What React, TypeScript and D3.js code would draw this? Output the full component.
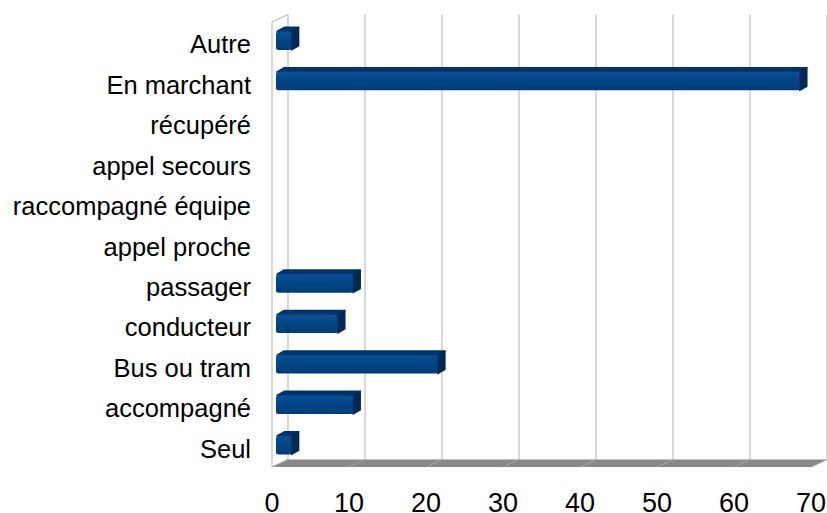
import React from "react";
import * as d3 from "d3";

const categories = [
  "Autre",
  "En marchant",
  "récupéré",
  "appel secours",
  "raccompagné équipe",
  "appel proche",
  "passager",
  "conducteur",
  "Bus ou tram",
  "accompagné",
  "Seul",
];
const values = [2, 68, 0, 0, 0, 0, 10, 8, 21, 10, 2];
const ticks = [0, 10, 20, 30, 40, 50, 60, 70];

const W = 827;
const H = 513;
// oblique depth of the 3D box
const DX = 16;
const DY = -7.5;
const FONT = "'Liberation Sans', Arial, sans-serif";

const App = () => {
  const x = d3.scaleLinear().domain([0, 70]).range([272, 811]);
  const y = d3.scaleBand().domain(categories).range([22, 467]);
  const floorY = y.range()[1];
  const top = y.range()[0];
  const barH = 18.5;

  const label = (t: string, tx: number, ty: number, anchor: string, size: number) => (
    <text
      key={t + tx + ty}
      x={tx}
      y={ty}
      textAnchor={anchor}
      fontFamily={FONT}
      fontSize={size}
      fill="#000"
    >
      {t}
    </text>
  );

  return (
    <svg
      width={W}
      height={H}
      style={{ position: "absolute", left: 0, top: 0, background: "#fff" }}
    >
      <defs>
        <linearGradient id="front" x1="0" y1="0" x2="0" y2="1">
          <stop offset="0" stopColor="#0a4f93" />
          <stop offset="0.5" stopColor="#004586" />
          <stop offset="1" stopColor="#003c76" />
        </linearGradient>
      </defs>

      {/* left side wall */}
      <line x1={x(0)} y1={top} x2={x(0)} y2={floorY} stroke="#b3b3b3" />
      <line x1={x(0)} y1={top} x2={x(0) + DX} y2={top + DY} stroke="#b3b3b3" />

      {/* back wall grid */}
      {ticks.map((t) => (
        <line
          key={"g" + t}
          x1={x(t) + DX}
          x2={x(t) + DX}
          y1={top + DY}
          y2={floorY + DY}
          stroke="#b3b3b3"
        />
      ))}

      {/* floor */}
      <polygon
        points={[
          [x(0), floorY],
          [x(70), floorY],
          [x(70) + DX, floorY + DY],
          [x(0) + DX, floorY + DY],
        ]
          .map((p) => p.join(","))
          .join(" ")}
        fill="#888888"
      />
      {ticks.map((t) => (
        <line
          key={"f" + t}
          x1={x(t)}
          y1={floorY}
          x2={x(t) + DX}
          y2={floorY + DY}
          stroke="#a2a2a2"
          strokeWidth={1}
        />
      ))}

      {/* bars */}
      {categories.map((c, i) => {
        const v = values[i];
        if (!v) return null;
        const cy = (y(c) as number) + y.bandwidth() / 2 - 1.5;
        const x0 = x(0) + DX * 0.25;
        const x1 = x(v) + DX * 0.25;
        const y0 = cy - barH / 2 + DY * 0.25 + 1.8;
        const y1 = y0 + barH;
        const ox = DX * 0.45;
        const oy = DY * 0.55;
        const pts = (a: number[][]) => a.map((p) => p.join(",")).join(" ");
        return (
          <g key={c}>
            <polygon
              points={pts([
                [x0 + 1, y0],
                [x1, y0],
                [x1 + ox, y0 + oy],
                [x0 + ox + 1, y0 + oy],
              ])}
              fill="#003468"
              stroke="#003468"
              strokeLinejoin="round"
              strokeWidth={1.5}
            />
            <polygon
              points={pts([
                [x1, y0],
                [x1 + ox, y0 + oy],
                [x1 + ox, y1 + oy],
                [x1, y1],
              ])}
              fill="#002a55"
              stroke="#002a55"
              strokeLinejoin="round"
              strokeWidth={1.5}
            />
            <rect
              x={x0}
              y={y0}
              width={x1 - x0}
              height={barH}
              rx={2.5}
              fill="url(#front)"
            />
          </g>
        );
      })}

      {/* category labels */}
      {categories.map((c) =>
        label(c, 251, (y(c) as number) + y.bandwidth() / 2 + 11, "end", 25.5)
      )}

      {/* value axis labels */}
      {ticks.map((t) => label(String(t), x(t), 511.5, "middle", 27))}
    </svg>
  );
};

export default App;
